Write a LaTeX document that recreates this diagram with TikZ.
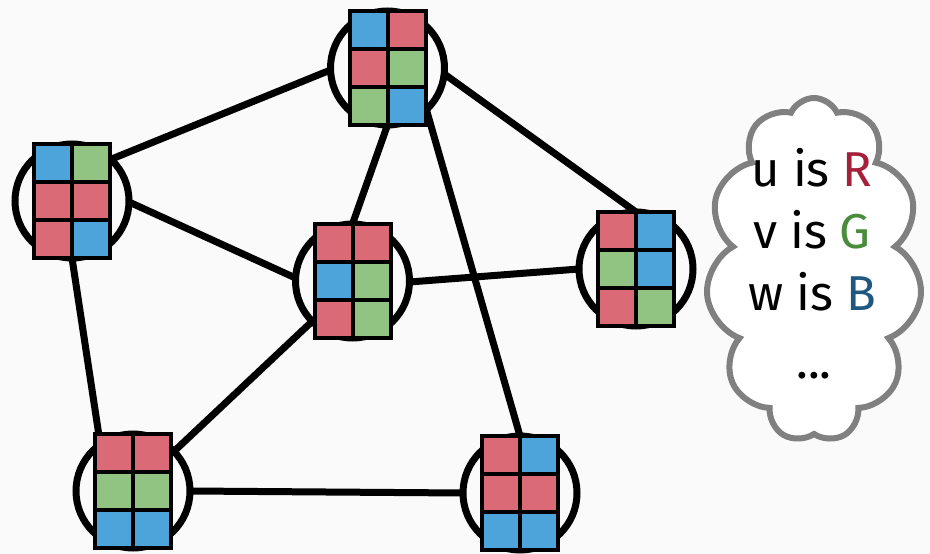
\documentclass[tikz,border=0pt]{standalone}
\usepackage{fontspec}
\setmainfont{Fira Sans}
\usetikzlibrary{calc,shapes.symbols}

\definecolor{bg}{RGB}{250,250,250}
\definecolor{cB}{RGB}{77,164,218}
\definecolor{cR}{RGB}{219,106,119}
\definecolor{cG}{RGB}{145,195,131}
\definecolor{tR}{RGB}{165,32,58}
\definecolor{tG}{RGB}{72,140,60}
\definecolor{tB}{RGB}{30,88,128}
\definecolor{cloudgray}{RGB}{128,128,128}

\tikzset{
  ring/.style={circle, draw=black, line width=7pt, minimum size=114pt,
               inner sep=0pt, outer sep=0pt},
  cell/.style={rectangle, draw=black, line width=4pt, minimum size=38pt,
               inner sep=0pt, outer sep=0pt},
  link/.style={draw=black, line width=7pt},
  bubble/.style={cloud, cloud puffs=11, cloud puff arc=130, cloud ignores aspect,
                 draw=cloudgray, line width=6pt, fill=white, minimum width=216pt,
                 minimum height=344pt, inner sep=0pt},
  txt/.style={anchor=base, inner sep=0pt, font=\fontsize{49}{49}\selectfont}
}

% 2x3 colour grid centred on a vertex; colours listed row by row
\newcommand\cellgrid[2]{%
  \foreach \cc [count=\k from 0] in {#2} {%
    \pgfmathtruncatemacro\gr{int(\k/2)}%
    \pgfmathtruncatemacro\gc{mod(\k,2)}%
    \node[cell, fill=\cc] (#1-\k) at ($(#1)+({(\gc-0.5)*38},{(\gr-1)*38})$) {};
  }%
}

\begin{document}
\begin{tikzpicture}[x=1pt,y=-1pt]
  \fill[bg] (0,0) rectangle (930,554);
  \useasboundingbox (0,0) rectangle (930,554);

  % vertices
  \node[ring] (T)  at (387.5,68)  {};
  \node[ring] (L)  at (72,201)    {};
  \node[ring] (M)  at (352.5,281) {};
  \node[ring] (R)  at (636,269)   {};
  \node[ring] (BL) at (133,491)   {};
  \node[ring] (BR) at (520,493)   {};

  % edges
  \draw[link] (T.182)  -- (L.47);
  \draw[link] (L.-1)   -- (M.177);
  \draw[link] (L.-90)  -- (BL.125);
  \draw[link] (T.-90)  -- (M.90);
  \draw[link] (T.-6)   -- (R.90);
  \draw[link] (T.-47)  -- (BR.90);
  \draw[link] (M.-1)   -- (R.180);
  \draw[link] (M.-135) -- (BL.44);
  \draw[link] (BL.0)   -- (BR.180);

  % colour grids
  \cellgrid{T}{cB,cR,cR,cG,cG,cB}
  \cellgrid{L}{cB,cG,cR,cR,cR,cB}
  \cellgrid{M}{cR,cR,cB,cG,cR,cG}
  \cellgrid{R}{cR,cB,cG,cB,cR,cG}
  \cellgrid{BL}{cR,cR,cG,cG,cB,cB}
  \cellgrid{BR}{cR,cB,cR,cR,cB,cB}

  % assignment bubble
  \node[bubble] (note) at (814,270) {};
  \node[txt] (u) at (812,186) {u is \textcolor{tR}{R}};
  \node[txt] (v) at (812,248) {v is \textcolor{tG}{G}};
  \node[txt] (w) at (812,310) {w is \textcolor{tB}{B}};
  \node[txt] (dots) at (814,378) {...};
\end{tikzpicture}
\end{document}
